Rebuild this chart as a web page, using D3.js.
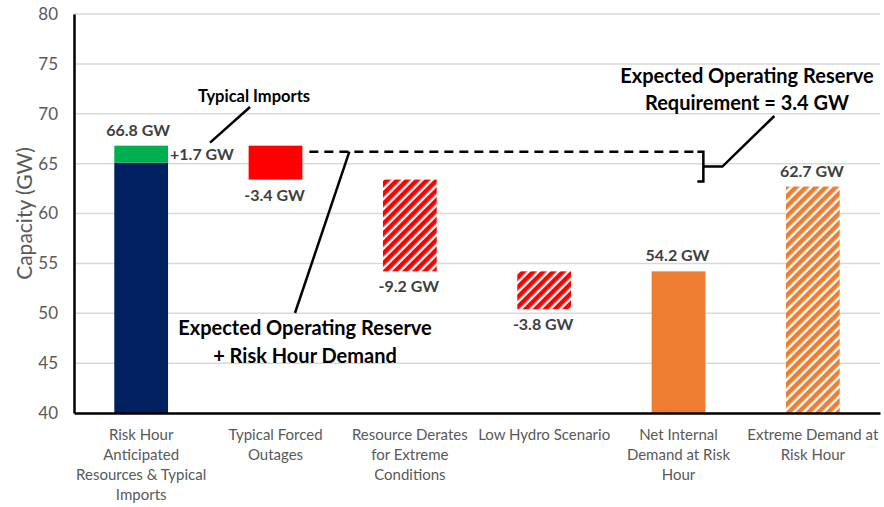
<!DOCTYPE html>
<html><head><meta charset="utf-8">
<script src="https://cdn.jsdelivr.net/npm/d3@7"></script>
<style>body{margin:0;background:#fff}svg{display:block}</style>
</head><body>
<svg id="c" width="884" height="507"></svg>
<script>
const categories = [
  ["Risk Hour","Anticipated","Resources & Typical","Imports"],
  ["Typical Forced","Outages"],
  ["Resource Derates","for Extreme","Conditions"],
  ["Low Hydro Scenario"],
  ["Net Internal","Demand at Risk","Hour"],
  ["Extreme Demand at","Risk Hour"]
];
const segCategory = [0, 0, 1, 2, 3, 4, 5];
const segLow  = [40, 65.1, 63.4, 54.2, 50.4, 40, 40];
const segHigh = [65.1, 66.8, 66.8, 63.4, 54.2, 54.2, 62.7];
const segLabels = ["", "+1.7 GW", "-3.4 GW", "-9.2 GW", "-3.8 GW", "54.2 GW", "62.7 GW"];
const totalLabel = "66.8 GW";
const yTicks = [40, 45, 50, 55, 60, 65, 70, 75, 80];
const reserveLevel = 66.2;
const reserveBracketLow = 63.2;

const svg = d3.select("#c");
const W = 884, H = 507;
const m = {left: 74, right: 4, top: 14, bottom: 94};
const x = d3.scaleBand().domain(d3.range(categories.length)).range([m.left, W - m.right]).paddingInner(0.6).paddingOuter(0.3);
const y = d3.scaleLinear().domain([40, 80]).range([H - m.bottom, m.top]);

const defs = svg.append("defs");
function hatch(id, color) {
  const p = defs.append("pattern").attr("id", id).attr("patternUnits", "userSpaceOnUse")
    .attr("width", 7).attr("height", 7).attr("patternTransform", "rotate(45)");
  p.append("rect").attr("width", 7).attr("height", 7).attr("fill", color);
  p.append("rect").attr("x", 4.6).attr("width", 2.4).attr("height", 7).attr("fill", "#fff");
}
hatch("hRed", "#FF0000");
hatch("hOrange", "#ED7D31");
const fills = ["#002060", "#00B050", "#FF0000", "url(#hRed)", "url(#hRed)", "#ED7D31", "url(#hOrange)"];

// gridlines
svg.append("g").selectAll("line").data(yTicks.slice(1)).join("line")
  .attr("x1", m.left).attr("x2", W - m.right)
  .attr("y1", d => y(d)).attr("y2", d => y(d))
  .attr("stroke", "#d9d9d9").attr("stroke-width", 1.5);

// y axis
const yAxis = svg.append("g").attr("transform", `translate(${m.left},0)`)
  .call(d3.axisLeft(y).tickValues(yTicks).tickSize(0).tickPadding(16));
yAxis.select(".domain").attr("stroke", "#000").attr("stroke-width", 2.5);
yAxis.selectAll("text").attr("font-family", "Lato, sans-serif").attr("font-size", 17).attr("fill", "#595959");

svg.append("text").attr("transform", `translate(23,${(m.top + H - m.bottom) / 2}) rotate(-90)`)
  .attr("text-anchor", "middle").attr("dominant-baseline", "central")
  .attr("font-family", "Lato, sans-serif").attr("font-size", 21).attr("fill", "#595959")
  .text("Capacity (GW)");

// bars
const idx = d3.range(segLow.length);
svg.append("g").selectAll("rect").data(idx).join("rect")
  .attr("x", i => x(segCategory[i]))
  .attr("width", x.bandwidth())
  .attr("y", i => y(segHigh[i]))
  .attr("height", i => y(segLow[i]) - y(segHigh[i]))
  .attr("fill", i => fills[i]);

// x axis
const xAxis = svg.append("g").attr("transform", `translate(0,${H - m.bottom})`)
  .call(d3.axisBottom(x).tickSize(0).tickFormat(""));
xAxis.select(".domain").attr("stroke", "#000").attr("stroke-width", 2.5);
const catG = svg.append("g").attr("font-family", "Lato, sans-serif").attr("font-size", 15).attr("fill", "#595959").attr("text-anchor", "middle");
categories.forEach((lines, c) => {
  const t = catG.append("text").attr("x", x(c) + x.bandwidth() / 2).attr("y", H - m.bottom + 27);
  lines.forEach((l, k) => t.append("tspan").attr("x", x(c) + x.bandwidth() / 2).attr("dy", k === 0 ? 0 : 20).text(l));
});

// value labels
const lab = svg.append("g").attr("font-family", "Lato, sans-serif").attr("font-size", 16).attr("font-weight", "bold").attr("fill", "#404040");
const cx = i => x(segCategory[i]) + x.bandwidth() / 2;
lab.append("text").attr("x", cx(0) - 3).attr("y", y(segHigh[1]) - 10).attr("text-anchor", "middle").text(totalLabel);
lab.append("text").attr("x", x(0) + x.bandwidth() + 2).attr("y", y((segLow[1] + segHigh[1]) / 2) + 6).text(segLabels[1]);
[2, 3, 4].forEach(i => lab.append("text").attr("x", cx(i) - 1).attr("y", y(segLow[i]) + 21).attr("text-anchor", "middle").text(segLabels[i]));
[5, 6].forEach(i => lab.append("text").attr("x", cx(i) - 1).attr("y", y(segHigh[i]) - 10).attr("text-anchor", "middle").text(segLabels[i]));

// annotations
const ann = svg.append("g");
const ly = y(reserveLevel);
const bx = x(4) + x.bandwidth() - 8;
ann.append("line").attr("x1", x(1) + x.bandwidth() + 7).attr("x2", bx).attr("y1", ly).attr("y2", ly)
  .attr("stroke", "#000").attr("stroke-width", 2.5).attr("stroke-dasharray", "9,6");
// bracket
const by2 = y(reserveBracketLow);
ann.append("path").attr("d", `M${bx},${ly} h6 V${by2} h-6 M${bx + 6},${(ly + by2) / 2} H${bx + 25} L${bx + 77},${116}`)
  .attr("fill", "none").attr("stroke", "#000").attr("stroke-width", 2.5);
// typical imports leader
ann.append("line").attr("x1", x(0) + x.bandwidth() + 42).attr("y1", y(segHigh[1]) - 3).attr("x2", x(0) + x.bandwidth() + 82).attr("y2", 107)
  .attr("stroke", "#000").attr("stroke-width", 2.5);
// demand leader
ann.append("line").attr("x1", x(1) + x.bandwidth() + 47).attr("y1", ly).attr("x2", 295).attr("y2", 313)
  .attr("stroke", "#000").attr("stroke-width", 2.5);

const at = svg.append("g").attr("font-family", "Lato, sans-serif").attr("font-weight", "bold").attr("fill", "#000").attr("text-anchor", "middle");
at.append("text").attr("x", 254).attr("y", 102).attr("font-size", 16.5).text("Typical Imports");
at.append("text").attr("x", 747).attr("y", 83).attr("font-size", 20).text("Expected Operating Reserve");
at.append("text").attr("x", 747).attr("y", 110).attr("font-size", 20).text("Requirement = 3.4 GW");
at.append("text").attr("x", 305).attr("y", 335).attr("font-size", 20).text("Expected Operating Reserve");
at.append("text").attr("x", 305).attr("y", 363).attr("font-size", 20).text("+ Risk Hour Demand");
</script>
</body></html>
